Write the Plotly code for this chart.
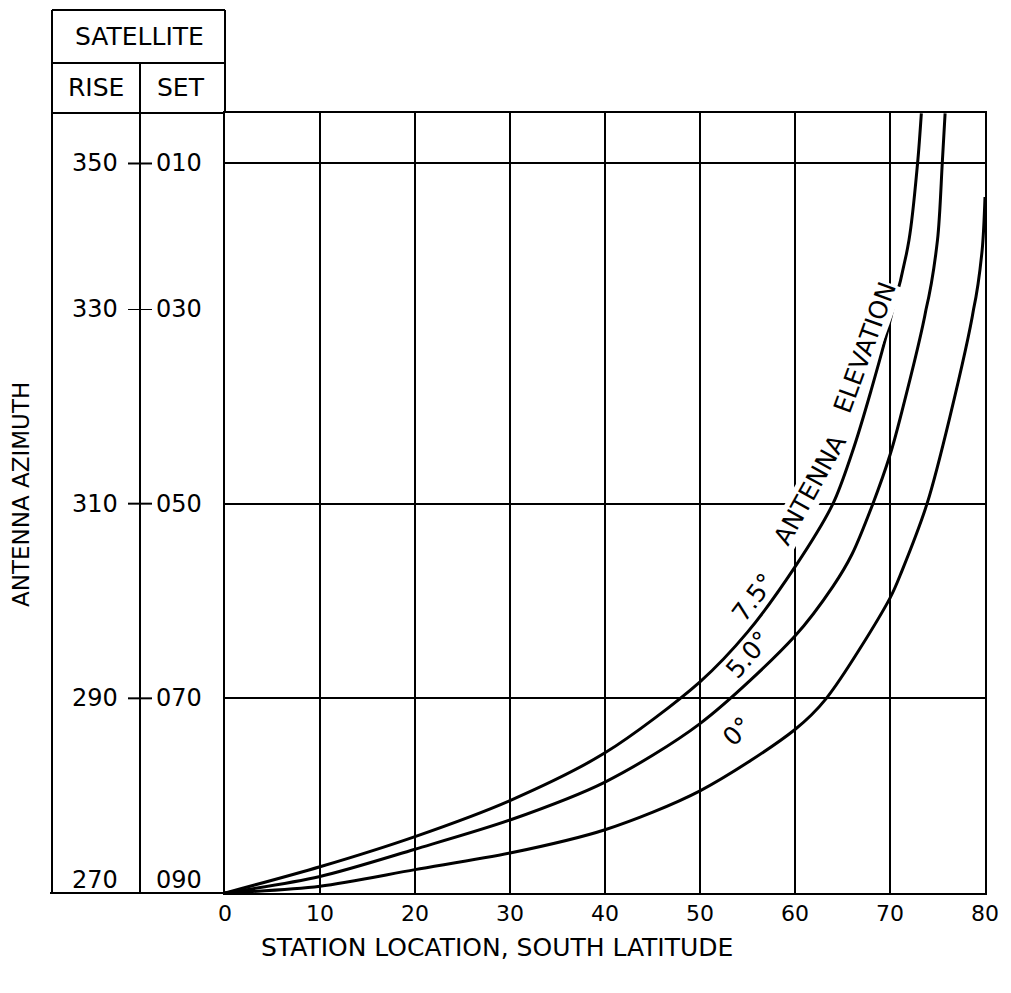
import plotly.graph_objects as go

# ---------------- data ----------------
lat_75 = [0, 10, 20, 30, 40, 50, 55, 60, 64.0, 66.0, 68.0, 70.3, 72.0, 72.9, 73.3]
az_75 = [270, 272.7, 275.8, 279.5, 284.4, 291.7, 296.8, 303.5, 310.0, 315.2, 321.6, 330.0, 339.5, 350.0, 356.9]

lat_50 = [0, 10, 20, 30, 40, 50, 60, 64.0, 66.0, 68.2, 70.0, 71.1, 73.8, 75.0, 75.5, 75.8]
az_50 = [270, 271.7, 274.5, 277.5, 281.4, 287.4, 296.4, 301.5, 304.8, 310.0, 315.0, 318.9, 330.0, 339.5, 350.0, 356.9]

lat_0 = [0, 10, 20, 30, 40, 50, 60, 63.3, 70, 71.3, 73.9, 76.3, 78.8, 79.7, 80]
az_0 = [270, 270.7, 272.4, 274.1, 276.5, 280.5, 286.8, 290.0, 300.3, 303.2, 310.0, 318.9, 330.0, 338.1, 345.4]

x_ticks = [0, 10, 20, 30, 40, 50, 60, 70, 80]
az_ticks = [270, 290, 310, 330, 350]
rise_labels = ["270", "290", "310", "330", "350"]
set_labels = ["090", "070", "050", "030", "010"]

curve_labels = [
    # text, lat, azimuth, angle, masks the grid below it
    ("7.5°", 55.6, 300.4, -53, False),
    ("ANTENNA", 61.5, 311.4, -61, True),
    ("ELEVATION", 67.4, 326.0, -70, True),
    ("5.0°", 55.1, 294.5, -49, False),
    ("0°", 53.9, 286.6, -45, False),
]

# ---------------- layout constants ----------------
FONT = "DejaVu Sans"
OFF = 8                      # default page margin of the html body
W, H = 1011 - 2 * OFF, 993 - 2 * OFF
PLOT_X0, PLOT_X1, PLOT_Y0, PLOT_Y1 = 225, 985, 113, 893   # reference pixels
L = PLOT_X0 - OFF
T = PLOT_Y0 - OFF
R = W - (PLOT_X1 - OFF)
B = H - (PLOT_Y1 - OFF)
PW = PLOT_X1 - PLOT_X0
PH = PLOT_Y1 - PLOT_Y0
SPLIT = (PLOT_Y1 - 309) / PH   # fraction of plot height for the 270-330 band
LOW_RANGE = [270, 330]
UP_RANGE = [330, 356.94]


def px(xp):
    return (xp - PLOT_X0) / PW


def py(yp):
    return (PLOT_Y1 - yp) / PH


fig = go.Figure()
for lat, az in [(lat_75, az_75), (lat_50, az_50), (lat_0, az_0)]:
    for xa, ya in [("x", "y"), ("x2", "y2")]:
        fig.add_trace(go.Scatter(
            x=lat, y=az, mode="lines", xaxis=xa, yaxis=ya,
            line=dict(color="black", width=3, shape="spline", smoothing=0.85),
            showlegend=False, hoverinfo="skip"))

grid = dict(showgrid=True, gridcolor="black", gridwidth=2, zeroline=False,
            linecolor="black", linewidth=2, automargin=False)

fig.update_layout(
    template="none",
    width=W, height=H,
    margin=dict(l=L, r=R, t=T, b=B, pad=0, autoexpand=False),
    paper_bgcolor="white", plot_bgcolor="white",
    font=dict(family=FONT, color="black", size=22),
    xaxis=dict(domain=[0, 1], range=[0, 80], tickvals=x_ticks, anchor="y",
               side="bottom", showline=True, mirror=False,
               ticks="", tickfont=dict(size=22), **grid),
    xaxis2=dict(domain=[0, 1], range=[0, 80], tickvals=x_ticks, anchor="y2",
                side="top", showline=True, mirror=False,
                matches="x", showticklabels=False, ticks="", **grid),
    yaxis=dict(domain=[0, SPLIT], range=LOW_RANGE,
               tickvals=[v for v in az_ticks if v <= 330],
               showline=True, mirror=True,
               showticklabels=False, ticks="", **grid),
    yaxis2=dict(domain=[SPLIT, 1], range=UP_RANGE,
                tickvals=[v for v in az_ticks if v > 330],
                showline=True, mirror=True,
                showticklabels=False, ticks="", **grid),
)

# ---------------- table at the left ----------------
LW = dict(color="black", width=2)
x_left, x_div, x_plot = px(52), px(140), 0
y_top, y_sat = py(10), py(63)
shapes = [
    dict(x0=x_left, x1=x_left, y0=0, y1=y_top),
    dict(x0=x_left, x1=x_plot, y0=y_top, y1=y_top),
    dict(x0=x_plot, x1=x_plot, y0=1, y1=y_top),
    dict(x0=x_left, x1=x_plot, y0=y_sat, y1=y_sat),
    dict(x0=x_left, x1=x_plot, y0=1, y1=1),
    dict(x0=x_div, x1=x_div, y0=0, y1=y_sat),
    dict(x0=px(50), x1=x_plot, y0=0, y1=0),
]
for s in shapes:
    fig.add_shape(type="line", xref="paper", yref="paper", line=LW, **s)

CENTER = dict(xanchor="center", yanchor="middle", showarrow=False)

for v, r_lab, s_lab in zip(az_ticks, rise_labels, set_labels):
    yref = "y2" if v > 330 else "y"
    shift = 13 if v == 270 else 0
    if v != 270:
        fig.add_shape(type="line", xref="paper", yref=yref,
                      x0=px(128), x1=px(152), y0=v, y1=v, line=LW)
    fig.add_annotation(x=px(95), y=v, xref="paper", yref=yref, text=r_lab,
                       yshift=shift, font=dict(size=24), **CENTER)
    fig.add_annotation(x=px(179), y=v, xref="paper", yref=yref, text=s_lab,
                       yshift=shift, font=dict(size=24), **CENTER)

fig.add_annotation(x=px(139), y=py(37), xref="paper", yref="paper",
                   text="SATELLITE", font=dict(size=25), **CENTER)
fig.add_annotation(x=px(96), y=py(88), xref="paper", yref="paper",
                   text="RISE", font=dict(size=25), **CENTER)
fig.add_annotation(x=px(181), y=py(88), xref="paper", yref="paper",
                   text="SET", font=dict(size=25), **CENTER)

# axis titles
fig.add_annotation(x=px(21), y=py(495), xref="paper", yref="paper",
                   text="ANTENNA AZIMUTH", textangle=-90,
                   font=dict(size=23), **CENTER)
fig.add_annotation(x=px(497), y=py(947), xref="paper", yref="paper",
                   text="STATION LOCATION, SOUTH LATITUDE",
                   font=dict(size=25), **CENTER)

# curve labels
for text, la, az, ang, mask in curve_labels:
    fig.add_annotation(x=la, y=az, xref="x", yref="y", text=text,
                       textangle=ang, borderpad=0,
                       bgcolor="white" if mask else "rgba(0,0,0,0)",
                       font=dict(size=25), **CENTER)

fig.write_html("out.html")
